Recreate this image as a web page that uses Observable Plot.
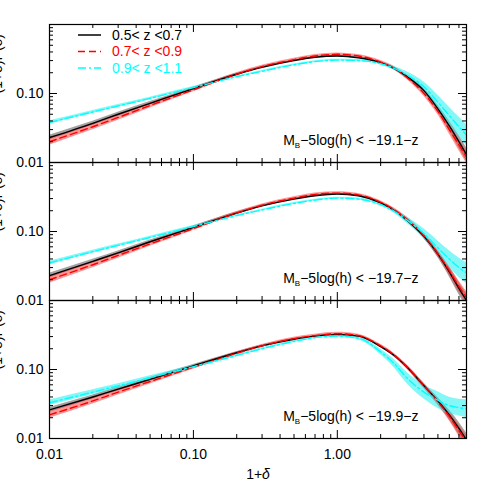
<!DOCTYPE html>
<html><head><meta charset="utf-8">
<script src="https://cdn.jsdelivr.net/npm/d3@7"></script>
<script src="https://cdn.jsdelivr.net/npm/@observablehq/plot@0.6"></script>
<style>body{margin:0;background:#fff}</style>
</head><body><div id="chart"></div>
<script>
// x grid (1+delta)
const xs = [0.01,0.02,0.03,0.05,0.1,0.2,0.3,0.5,0.7,1.0,1.4,2.0,2.5,3.0,4.0,5.0,6.0,7.0,7.9];

// Panel keys and magnitude cuts
const panelKeys = ["top","mid","bot"];
const panelCuts = ["M_B−5log(h) < −19.1−z","M_B−5log(h) < −19.7−z","M_B−5log(h) < −19.9−z"];

// Series
const seriesNames = ["0.5< z <0.7","0.7< z <0.9","0.9< z <1.1"];
const seriesColors = ["#000000","#ff0000","#00ffff"];
const bandColors = ["#555555","#ff4040","#20f0f0"];
const seriesDash = [null,"7,4","8,3,2,3"];

// Values
const blackTop = [0.023,0.037,0.050,0.072,0.118,0.19,0.24,0.30,0.335,0.35,0.33,0.28,0.23,0.18,0.11,0.06,0.034,0.020,0.013];
const redTop   = [0.020,0.033,0.045,0.067,0.113,0.19,0.245,0.31,0.35,0.37,0.35,0.285,0.23,0.175,0.10,0.055,0.030,0.018,0.012];
const cyanTop  = [0.038,0.054,0.066,0.085,0.122,0.175,0.21,0.26,0.29,0.305,0.30,0.27,0.23,0.19,0.125,0.075,0.048,0.033,0.025];

const blackMid = [0.023,0.037,0.049,0.071,0.115,0.185,0.235,0.295,0.33,0.35,0.33,0.26,0.20,0.15,0.085,0.047,0.026,0.015,0.010];
const redMid   = [0.020,0.033,0.045,0.066,0.110,0.185,0.24,0.305,0.345,0.36,0.34,0.265,0.205,0.155,0.087,0.048,0.027,0.016,0.011];
const cyanMid  = [0.035,0.051,0.063,0.082,0.118,0.17,0.205,0.255,0.285,0.305,0.295,0.245,0.195,0.15,0.093,0.058,0.040,0.030,0.025];

const blackBot = [0.026,0.040,0.052,0.072,0.113,0.175,0.22,0.275,0.305,0.32,0.305,0.215,0.158,0.112,0.058,0.035,0.022,0.014,0.0095];
const redBot   = [0.022,0.035,0.047,0.067,0.108,0.172,0.22,0.28,0.31,0.33,0.31,0.22,0.16,0.113,0.058,0.034,0.021,0.013,0.009];
const cyanBot  = [0.033,0.047,0.058,0.076,0.110,0.16,0.20,0.255,0.29,0.305,0.285,0.18,0.12,0.078,0.047,0.036,0.030,0.028,0.027];

// Band half-widths (dex)
const blackSpread = [0.035,0.03,0.028,0.025,0.02,0.015,0.012,0.01,0.01,0.01,0.012,0.015,0.02,0.025,0.035,0.05,0.07,0.09,0.10];
const redSpread   = [0.05,0.045,0.04,0.035,0.028,0.022,0.02,0.02,0.02,0.02,0.02,0.022,0.025,0.03,0.04,0.05,0.065,0.08,0.09];
const cyanSpread  = [0.025,0.022,0.02,0.018,0.015,0.012,0.012,0.012,0.012,0.012,0.014,0.02,0.03,0.045,0.07,0.10,0.12,0.14,0.15];
const cyanSpreadBot = [0.04,0.035,0.03,0.028,0.022,0.018,0.015,0.015,0.015,0.018,0.025,0.04,0.06,0.08,0.10,0.12,0.12,0.12,0.13];

// Ticks
const xTickLabels = [0.01,0.1,1];
const xMinor = [0.02,0.03,0.04,0.05,0.06,0.07,0.08,0.09,0.2,0.3,0.4,0.5,0.6,0.7,0.8,0.9,2,3,4,5,6,7];
const yTickLabels = [0.01,0.1];
const yMajor = [0.01,0.1,1];
const yMinor = [0.02,0.03,0.04,0.05,0.06,0.07,0.08,0.09,0.2,0.3,0.4,0.5,0.6,0.7,0.8,0.9];

const panelValues = [[blackTop,redTop,cyanTop],[blackMid,redMid,cyanMid],[blackBot,redBot,cyanBot]];
const panelSpreads = [[blackSpread,redSpread,cyanSpread],[blackSpread,redSpread,cyanSpread],[blackSpread,redSpread,cyanSpreadBot]];

const rows = [];
panelKeys.forEach((p, pi) => {
  panelValues[pi].forEach((vals, si) => {
    vals.forEach((v, i) => {
      const e = panelSpreads[pi][si][i];
      rows.push({panel: p, s: si, x: xs[i], y: v, lo: v / 10 ** e, hi: v * 10 ** e});
    });
  });
});
const annot = panelKeys.map((p, i) => ({panel: p, text: panelCuts[i]}));

const W = 491, H = 491;
const mL = 49, mR = 25, mT = 24, mB = 53;
const fH = (H - mT - mB) / 3;
const fW = W - mL - mR;

const bandMarks = [0,1,2].map(si => Plot.areaY(rows.filter(d => d.s === si), {
  x: "x", y1: "lo", y2: "hi", fy: "panel", fill: bandColors[si], fillOpacity: 0.55, curve: "monotone-x", clip: true
}));
const lineMarks = [0,1,2].map(si => Plot.line(rows.filter(d => d.s === si), {
  x: "x", y: "y", fy: "panel", stroke: seriesColors[si], strokeWidth: 1.4,
  strokeDasharray: seriesDash[si], curve: "monotone-x", clip: true
}));

const svg = Plot.plot({
  width: W, height: H,
  marginLeft: mL, marginRight: mR, marginTop: mT, marginBottom: mB,
  style: {fontFamily: "'Liberation Sans', Arial, sans-serif", fontSize: "14px", background: "#fff", color: "#000"},
  x: {type: "log", domain: [0.01, 7.9], axis: null},
  y: {type: "log", domain: [0.01, 1], axis: null},
  fy: {domain: panelKeys, padding: 0, axis: null},
  marks: [
    ...bandMarks,
    ...lineMarks,
    // inward ticks
    Plot.ruleX(xTickLabels, {insetTop: fH - 8, stroke: "#000"}),
    Plot.ruleX(xTickLabels, {insetBottom: fH - 8, stroke: "#000"}),
    Plot.ruleX(xMinor, {insetTop: fH - 4, stroke: "#000"}),
    Plot.ruleX(xMinor, {insetBottom: fH - 4, stroke: "#000"}),
    Plot.ruleY(yMajor, {insetRight: fW - 8, stroke: "#000"}),
    Plot.ruleY(yMajor, {insetLeft: fW - 8, stroke: "#000"}),
    Plot.ruleY(yMinor, {insetRight: fW - 4, stroke: "#000"}),
    Plot.ruleY(yMinor, {insetLeft: fW - 4, stroke: "#000"}),
    Plot.frame({stroke: "#000", strokeWidth: 1.2}),
    Plot.axisX(xTickLabels, {anchor: "bottom", tickSize: 0, tickPadding: 11, tickFormat: d => d.toFixed(2), fontSize: 14, label: null}),
    Plot.axisY(yTickLabels, {anchor: "left", tickSize: 0, tickPadding: 6, tickFormat: d => d.toFixed(2), fontSize: 14, label: null}),
    Plot.text(annot, {fy: "panel", text: "text", frameAnchor: "bottom-right", textAnchor: "end", lineAnchor: "middle", dx: -48, dy: -22, fontSize: 14}),
    Plot.text(annot, {fy: "panel", text: () => "(1+δ)P(δ)", frameAnchor: "left", rotate: -90, dx: -52, lineAnchor: "middle", fontSize: 14}),
    Plot.text(annot.filter(d => d.panel === "bot"), {fy: "panel", text: () => "1+δ", frameAnchor: "bottom", lineAnchor: "middle", dy: 36, fontSize: 14})
  ]
});

// subscripts & italics
d3.select(svg).selectAll("text").each(function() {
  const t = this.textContent;
  if (t.startsWith("M_B")) {
    const sel = d3.select(this);
    sel.text(null);
    sel.append("tspan").text("M");
    sel.append("tspan").attr("font-size", 8).attr("dy", 3).text("B");
    sel.append("tspan").attr("dy", -3).text(t.slice(3));
  } else if (t === "1+δ") {
    const sel = d3.select(this);
    sel.text(null);
    sel.append("tspan").text("1+");
    sel.append("tspan").attr("font-style", "italic").text("δ");
  }
});

// legend
const lg = d3.select(svg).append("g").attr("font-size", 14).attr("text-anchor", "start");
seriesNames.forEach((n, i) => {
  const y = 35 + i * 16.5;
  lg.append("line").attr("x1", 78).attr("x2", 101).attr("y1", y).attr("y2", y)
    .attr("stroke", seriesColors[i]).attr("stroke-width", 1.5)
    .attr("stroke-dasharray", seriesDash[i]);
  lg.append("text").attr("x", 112).attr("y", y).attr("dy", "0.35em")
    .attr("text-anchor", "start").attr("fill", seriesColors[i]).text(n);
});

document.getElementById("chart").appendChild(svg);
</script></body></html>
